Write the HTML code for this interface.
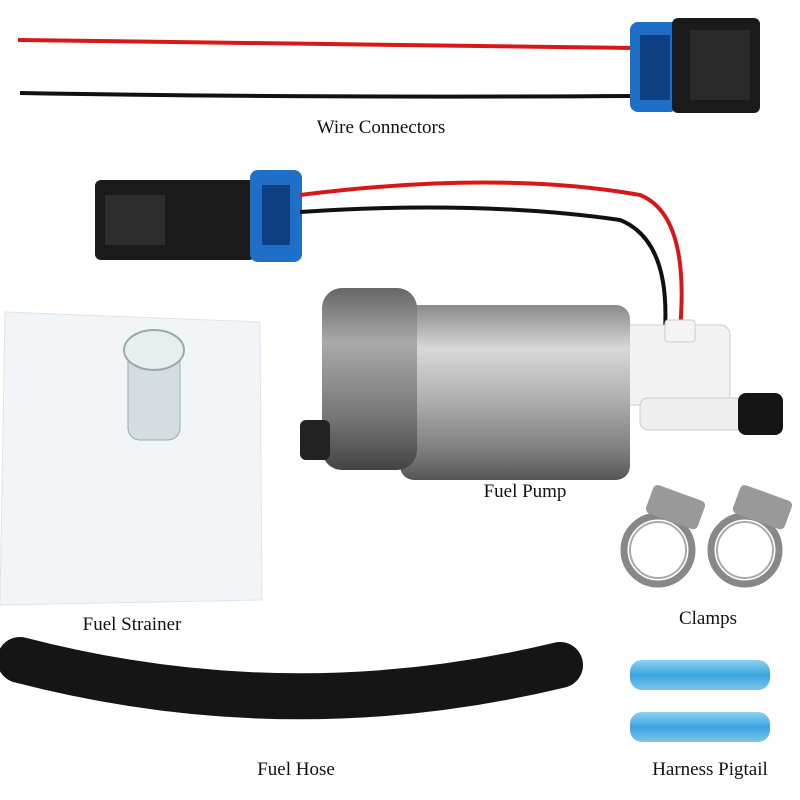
<!DOCTYPE html>
<html><head><meta charset="utf-8"><style>
html,body{margin:0;padding:0;background:#fff;}
svg{display:block}
text{font-family:"Liberation Serif",serif;font-size:19px;fill:#111}
</style></head><body>
<svg width="800" height="800" viewBox="0 0 800 800" xmlns="http://www.w3.org/2000/svg">
<defs>
<linearGradient id="cyl" x1="0" y1="0" x2="0" y2="1">
<stop offset="0" stop-color="#8a8a8a"/><stop offset="0.25" stop-color="#d8d8d8"/><stop offset="0.5" stop-color="#b5b5b5"/><stop offset="0.85" stop-color="#7a7a7a"/><stop offset="1" stop-color="#555"/></linearGradient>
<linearGradient id="cap" x1="0" y1="0" x2="0" y2="1">
<stop offset="0" stop-color="#666"/><stop offset="0.3" stop-color="#aaa"/><stop offset="0.7" stop-color="#777"/><stop offset="1" stop-color="#444"/></linearGradient>
<linearGradient id="blue" x1="0" y1="0" x2="0" y2="1">
<stop offset="0" stop-color="#8fd0f0"/><stop offset="0.5" stop-color="#3aa6e0"/><stop offset="1" stop-color="#7cc4ea"/></linearGradient>
</defs>
<!-- top wires -->
<path d="M18 40 Q300 45 635 48" stroke="#d81818" stroke-width="4" fill="none"/>
<path d="M20 93 Q300 98 635 96" stroke="#111" stroke-width="4" fill="none"/>
<rect x="630" y="22" width="48" height="90" rx="8" fill="#1f6fc8"/>
<rect x="640" y="35" width="30" height="65" fill="#0e3f80"/>
<rect x="672" y="18" width="88" height="95" rx="6" fill="#1a1a1a"/>
<rect x="690" y="30" width="60" height="70" fill="#2a2a2a"/>
<text x="381" y="133" text-anchor="middle">Wire Connectors</text>
<!-- second connector -->
<rect x="95" y="180" width="160" height="80" rx="6" fill="#1a1a1a"/>
<rect x="105" y="195" width="60" height="50" fill="#2d2d2d"/>
<rect x="250" y="170" width="52" height="92" rx="8" fill="#1f6fc8"/>
<rect x="262" y="185" width="28" height="60" fill="#0e3f80"/>
<path d="M300 195 Q500 170 640 195 Q690 215 680 330" stroke="#d81818" stroke-width="4" fill="none"/>
<path d="M300 212 Q480 200 620 220 Q670 240 665 330" stroke="#111" stroke-width="4" fill="none"/>
<!-- pump -->
<rect x="620" y="325" width="110" height="80" rx="10" fill="#f2f2f2" stroke="#ccc"/>
<rect x="640" y="398" width="110" height="32" rx="8" fill="#eee" stroke="#ccc"/>
<rect x="738" y="393" width="45" height="42" rx="8" fill="#151515"/>
<rect x="400" y="305" width="230" height="175" rx="14" fill="url(#cyl)"/>
<rect x="322" y="288" width="95" height="182" rx="20" fill="url(#cap)"/>
<rect x="300" y="420" width="30" height="40" rx="6" fill="#222"/>
<rect x="665" y="320" width="30" height="22" rx="3" fill="#f4f4f4" stroke="#ccc"/>
<text x="525" y="497" text-anchor="middle">Fuel Pump</text>
<!-- strainer -->
<path d="M5 312 L260 322 L262 600 L0 605 Z" fill="#f2f5f7" stroke="#e0e4e6"/>
<rect x="128" y="340" width="52" height="100" rx="12" fill="#d6dde0" stroke="#9aa"/>
<ellipse cx="154" cy="350" rx="30" ry="20" fill="#e8eded" stroke="#9aa" stroke-width="2"/>
<text x="132" y="630" text-anchor="middle">Fuel Strainer</text>
<!-- clamps -->
<circle cx="658" cy="550" r="34" fill="none" stroke="#888" stroke-width="7"/>
<circle cx="658" cy="550" r="28" fill="none" stroke="#aaa" stroke-width="2"/>
<circle cx="745" cy="550" r="34" fill="none" stroke="#888" stroke-width="7"/>
<circle cx="745" cy="550" r="28" fill="none" stroke="#aaa" stroke-width="2"/>
<rect x="648" y="492" width="55" height="30" rx="5" fill="#999" transform="rotate(20 675 507)"/>
<rect x="735" y="492" width="55" height="30" rx="5" fill="#999" transform="rotate(20 762 507)"/>
<text x="708" y="624" text-anchor="middle">Clamps</text>
<!-- hose -->
<path d="M20 660 Q290 730 560 665" stroke="#151515" stroke-width="46" fill="none" stroke-linecap="round"/>
<text x="296" y="775" text-anchor="middle">Fuel Hose</text>
<!-- pigtails -->
<rect x="630" y="660" width="140" height="30" rx="12" fill="url(#blue)"/>
<rect x="630" y="712" width="140" height="30" rx="12" fill="url(#blue)"/>
<text x="710" y="775" text-anchor="middle">Harness Pigtail</text>
</svg>
</body></html>
